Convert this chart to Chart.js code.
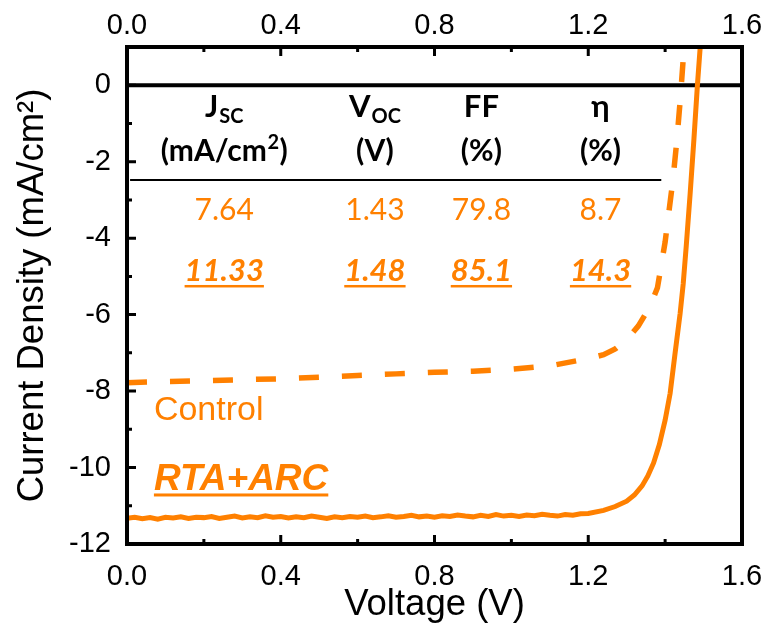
<!DOCTYPE html>
<html>
<head>
<meta charset="utf-8">
<title>J-V curves</title>
<script src="https://cdn.jsdelivr.net/npm/chart.js"></script>
<style>
    body { margin: 0; background: #fff; }
    canvas { display: block; }
</style>
</head>
<body>
<canvas id="ivChart" width="776" height="627"></canvas>
<script>
// Control cell (dashed) - voltage in V, current density in mA/cm2
var controlV = [0.00, 0.10, 0.20, 0.30, 0.40, 0.50, 0.60, 0.70, 0.80, 0.90, 1.00, 1.10, 1.20, 1.24, 1.27, 1.30, 1.33, 1.36, 1.38, 1.40, 1.42, 1.43, 1.44, 1.45];
var controlJ = [-7.78, -7.75, -7.73, -7.70, -7.68, -7.64, -7.59, -7.55, -7.51, -7.48, -7.43, -7.34, -7.15, -7.05, -6.90, -6.66, -6.30, -5.80, -5.30, -4.10, -2.50, -1.50, -0.30, 1.10];

// RTA+ARC cell (solid)
var rtaV = [0.00, 0.02, 0.04, 0.06, 0.08, 0.10, 0.12, 0.14, 0.16, 0.18,
            0.20, 0.22, 0.24, 0.26, 0.28, 0.30, 0.32, 0.34, 0.36, 0.38,
            0.40, 0.42, 0.44, 0.46, 0.48, 0.50, 0.52, 0.54, 0.56, 0.58,
            0.60, 0.62, 0.64, 0.66, 0.68, 0.70, 0.72, 0.74, 0.76, 0.78,
            0.80, 0.82, 0.84, 0.86, 0.88, 0.90, 0.92, 0.94, 0.96, 0.98,
            1.00, 1.02, 1.04, 1.06, 1.08, 1.10, 1.12, 1.14, 1.16, 1.18,
            1.20, 1.24, 1.27, 1.30, 1.32, 1.34, 1.355, 1.37, 1.385, 1.40,
            1.413, 1.426, 1.439, 1.447, 1.455, 1.465, 1.475, 1.484, 1.492];
var rtaJ = [-11.33, -11.30, -11.34, -11.31, -11.35, -11.30, -11.32, -11.29, -11.33, -11.30,
            -11.31, -11.28, -11.33, -11.30, -11.27, -11.32, -11.29, -11.31, -11.26, -11.30,
            -11.28, -11.32, -11.29, -11.31, -11.27, -11.30, -11.33, -11.29, -11.31, -11.28,
            -11.30, -11.27, -11.31, -11.29, -11.26, -11.30, -11.28, -11.25, -11.29, -11.27,
            -11.30, -11.26, -11.28, -11.24, -11.27, -11.29, -11.25, -11.28, -11.23, -11.27,
            -11.25, -11.28, -11.24, -11.26, -11.22, -11.25, -11.27, -11.23, -11.25, -11.21,
            -11.20, -11.12, -11.02, -10.88, -10.72, -10.48, -10.22, -9.88, -9.40, -8.76,
            -8.06, -7.00, -5.97, -5.20, -4.20, -2.85, -1.40, 0.00, 1.10];

var xTicks = [0, 0.4, 0.8, 1.2, 1.6];
var yTicks = [-12, -10, -8, -6, -4, -2, 0];

// table of device parameters
var headMain = ['J', 'V', 'FF', 'η'];
var headSub = ['SC', 'OC', '', ''];
var headUnits = ['(mA/cm²)', '(V)', '(%)', '(%)'];
var controlRow = ['7.64', '1.43', '79.8', '8.7'];
var rtaRow = ['11.33', '1.48', '85.1', '14.3'];

var orange = '#ff8000';
var arial = 'Liberation Sans, Arial, sans-serif';
var tickFont = { family: arial, size: 29 };
var tableFont = 'Lato, "Open Sans", sans-serif';

function pairs(xs, ys) {
    return xs.map(function (v, i) { return { x: v, y: ys[i] }; });
}

function centerText(ctx, txt, x, y, font, color, underline) {
    ctx.font = font;
    ctx.fillStyle = color;
    ctx.textAlign = 'center';
    ctx.textBaseline = 'alphabetic';
    ctx.fillText(txt, x, y);
    if (underline) {
        var w = ctx.measureText(txt).width;
        ctx.fillRect(x - w / 2, y + 4, w, 2.5);
    }
}

// text with a raised "2" drawn smaller, centred on x
function unitText(ctx, txt, x, y, size) {
    var parts = txt.split('²');
    var big = 'bold ' + size + 'px ' + tableFont, small = 'bold ' + Math.round(size * 0.65) + 'px ' + tableFont;
    ctx.font = big;
    var w0 = ctx.measureText(parts[0]).width;
    var w2 = parts.length > 1 ? ctx.measureText(parts[1]).width : 0;
    ctx.font = small;
    var ws = parts.length > 1 ? ctx.measureText('2').width + 1 : 0;
    var x0 = x - (w0 + ws + w2) / 2;
    ctx.fillStyle = '#000';
    ctx.textAlign = 'left';
    ctx.textBaseline = 'alphabetic';
    ctx.font = big;
    ctx.fillText(parts[0], x0, y);
    if (parts.length > 1) {
        ctx.font = small;
        ctx.fillText('2', x0 + w0 + 0.5, y - size * 0.4);
        ctx.font = big;
        ctx.fillText(parts[1], x0 + w0 + ws, y);
    }
}

var decorPlugin = {
    id: 'decor',
    beforeDatasetsDraw: function (chart) {
        var ctx = chart.ctx, a = chart.chartArea;
        var y0 = chart.scales.y.getPixelForValue(0);
        ctx.save();
        ctx.strokeStyle = '#000';
        ctx.lineWidth = 4;
        ctx.beginPath();
        ctx.moveTo(a.left, y0);
        ctx.lineTo(a.right, y0);
        ctx.stroke();
        ctx.restore();
    },
    afterDatasetsDraw: function (chart) {
        var ctx = chart.ctx, a = chart.chartArea;
        var sx = chart.scales.x, sy = chart.scales.y;
        ctx.save();
        ctx.strokeStyle = '#000';
        ctx.lineWidth = 4;
        ctx.strokeRect(a.left, a.top, a.right - a.left, a.bottom - a.top);

        // inward ticks, minor ones halfway between majors
        ctx.lineWidth = 3;
        ctx.beginPath();
        for (var i = 0; i < xTicks.length; i++) {
            var px = sx.getPixelForValue(xTicks[i]);
            ctx.moveTo(px, a.bottom); ctx.lineTo(px, a.bottom - 9);
            ctx.moveTo(px, a.top); ctx.lineTo(px, a.top + 9);
            if (i < xTicks.length - 1) {
                var mx = sx.getPixelForValue((xTicks[i] + xTicks[i + 1]) / 2);
                ctx.moveTo(mx, a.bottom); ctx.lineTo(mx, a.bottom - 5);
                ctx.moveTo(mx, a.top); ctx.lineTo(mx, a.top + 5);
            }
        }
        for (var j = 0; j < yTicks.length; j++) {
            var py = sy.getPixelForValue(yTicks[j]);
            ctx.moveTo(a.left, py); ctx.lineTo(a.left + 9, py);
            if (j < yTicks.length - 1) {
                var my = sy.getPixelForValue((yTicks[j] + yTicks[j + 1]) / 2);
                ctx.moveTo(a.left, my); ctx.lineTo(a.left + 5, my);
            }
        }
        ctx.stroke();
        ctx.restore();
    },
    afterDraw: function (chart) {
        var ctx = chart.ctx;
        var sx = chart.scales.x, sy = chart.scales.y;
        var colV = [0.253, 0.645, 0.922, 1.232];
        ctx.save();

        var bl1 = sy.getPixelForValue(-0.82);
        for (var i = 0; i < headMain.length; i++) {
            var cx = sx.getPixelForValue(colV[i]);
            // header line 1 with subscripts
            ctx.font = 'bold 31px ' + tableFont;
            var w1 = ctx.measureText(headMain[i]).width;
            ctx.font = 'bold 20px ' + tableFont;
            var w2 = headSub[i] ? ctx.measureText(headSub[i]).width + 1 : 0;
            var x0 = cx - (w1 + w2) / 2;
            ctx.fillStyle = '#000';
            ctx.textAlign = 'left';
            ctx.textBaseline = 'alphabetic';
            ctx.font = 'bold 31px ' + tableFont;
            ctx.fillText(headMain[i], x0, bl1);
            if (headSub[i]) {
                ctx.font = 'bold 20px ' + tableFont;
                ctx.fillText(headSub[i], x0 + w1 + 1, bl1 + 6);
            }
            unitText(ctx, headUnits[i], cx, sy.getPixelForValue(-1.97), 30);
            centerText(ctx, controlRow[i], cx, sy.getPixelForValue(-3.52), '30px ' + tableFont, orange);
            centerText(ctx, rtaRow[i], cx, sy.getPixelForValue(-5.12), 'italic bold 31px ' + tableFont, orange, true);
        }

        // rule below the header
        var ly = sy.getPixelForValue(-2.48);
        ctx.strokeStyle = '#000';
        ctx.lineWidth = 2;
        ctx.beginPath();
        ctx.moveTo(sx.getPixelForValue(0.008), ly);
        ctx.lineTo(sx.getPixelForValue(1.39), ly);
        ctx.stroke();

        // curve labels
        ctx.textAlign = 'left';
        ctx.fillStyle = orange;
        ctx.font = '34px ' + arial;
        ctx.fillText('Control', sx.getPixelForValue(0.07), sy.getPixelForValue(-8.75));
        ctx.font = 'italic bold 37px ' + arial;
        var rx = sx.getPixelForValue(0.07), ry = sy.getPixelForValue(-10.6);
        ctx.fillText('RTA+ARC', rx, ry);
        var rw = ctx.measureText('RTA+ARC').width;
        ctx.fillRect(rx, ry + 3, rw, 3);
        ctx.restore();
    }
};

var chart = new Chart(document.getElementById('ivChart').getContext('2d'), {
    type: 'line',
    data: {
        datasets: [
            {
                label: 'Control',
                data: pairs(controlV, controlJ),
                borderColor: orange,
                borderWidth: 5.5,
                borderDash: [20, 23],
                pointRadius: 0,
                fill: false
            },
            {
                label: 'RTA+ARC',
                data: pairs(rtaV, rtaJ),
                borderColor: orange,
                borderWidth: 5,
                pointRadius: 0,
                fill: false
            }
        ]
    },
    options: {
        responsive: false,
        animation: false,
        layout: { padding: { left: 0, right: 34, top: 0, bottom: 0 } },
        plugins: { legend: { display: false }, tooltip: { enabled: false } },
        scales: {
            x: {
                type: 'linear', position: 'bottom', min: 0, max: 1.6,
                afterBuildTicks: function (s) { s.ticks = xTicks.map(function (v) { return { value: v }; }); },
                afterFit: function (s) { s.height = 83; },
                grid: { display: false }, border: { display: false },
                ticks: { color: '#000', font: tickFont, padding: 8, maxRotation: 0,
                         callback: function (v) { return v.toFixed(1); } },
                title: { display: true, text: 'Voltage (V)', color: '#000', font: { family: arial, size: 36.5 }, padding: { top: 0, bottom: 0 } }
            },
            x2: {
                type: 'linear', position: 'top', min: 0, max: 1.6,
                afterBuildTicks: function (s) { s.ticks = xTicks.map(function (v) { return { value: v }; }); },
                afterFit: function (s) { s.height = 47; },
                grid: { display: false }, border: { display: false },
                ticks: { color: '#000', font: tickFont, padding: -4, maxRotation: 0,
                         callback: function (v) { return v.toFixed(1); } }
            },
            y: {
                min: -12, max: 1,
                afterBuildTicks: function (s) { s.ticks = yTicks.map(function (v) { return { value: v }; }); },
                afterFit: function (s) { s.width = 127; },
                grid: { display: false }, border: { display: false },
                ticks: { color: '#000', font: tickFont, padding: 8,
                         callback: function (v) { return String(v); } },
                title: { display: true, text: 'Current Density (mA/cm²)', color: '#000', font: { family: arial, size: 36.5 }, padding: { top: 11, bottom: 0 } }
            }
        }
    },
    plugins: [decorPlugin]
});
</script>
</body>
</html>
